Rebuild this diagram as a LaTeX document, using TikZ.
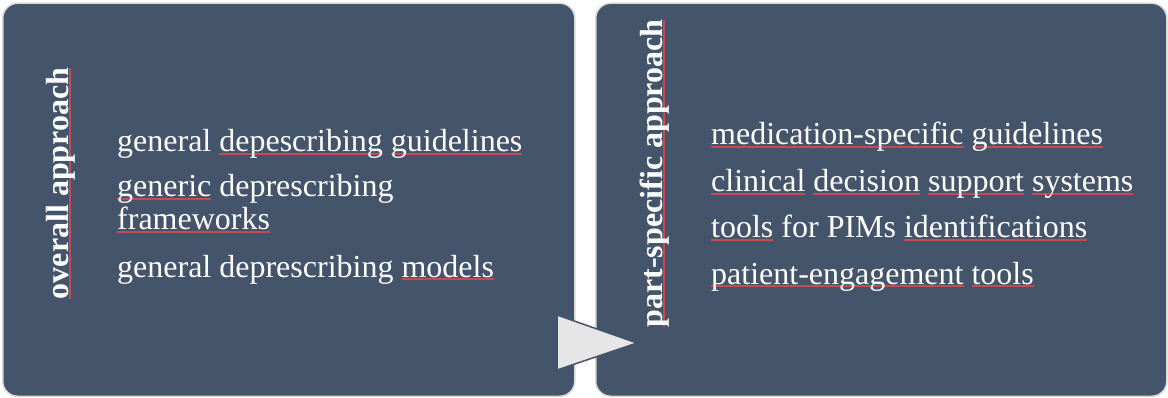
\documentclass[tikz,border=0pt]{standalone}
\usepackage{fontspec}
\setmainfont{Liberation Serif}
\definecolor{mainblue}{HTML}{44546A}
\definecolor{edgegray}{HTML}{D9D9D9}
\definecolor{arrowgray}{HTML}{E7E6E6}
\definecolor{squig}{HTML}{C8494F}
\newlength\sqlen
\newcommand\ul[1]{\settowidth\sqlen{#1}\rule[-2.6pt]{\sqlen}{1.3pt}}
\newcommand\ph[1]{\hphantom{#1}}
\tikzset{
  panel/.style={rectangle, rounded corners=15pt, draw=edgegray, line width=1.5pt, fill=mainblue, minimum width=572pt, minimum height=393pt, anchor=north west, inner sep=0pt},
  item/.style={anchor=base west, inner sep=0pt, text=white, font=\fontsize{32}{38}\selectfont},
  vtitle/.style={anchor=base, rotate=90, inner sep=0pt, text=white, font=\fontsize{32}{38}\selectfont\bfseries},
  squiggle/.style={text=squig},
  tri/.style={fill=arrowgray, draw=mainblue, line width=1.5pt, line join=miter}
}
\begin{document}
\begin{tikzpicture}[x=1pt,y=-1pt]
\useasboundingbox (0,0) rectangle (1168,398);
\node[panel] (L) at (2,2.5) {};
\node[panel, minimum width=571pt] (R) at (595,2.5) {};
\coordinate (t1) at (557,315);
\coordinate (t2) at (637,343);
\coordinate (t3) at (557,370);
\draw[tri] (t1) -- (t2) -- (t3) -- cycle;
% spelling underlines
\node[vtitle, squiggle] (Ltu) at (68,183.5) {\ul{overall approach}};
\node[vtitle, squiggle] (Rtu) at (662,173.5) {\ul{part-specific approach}};
\node[item, squiggle] (l1u) at (117,152) {\ph{general} \ul{depescribing} \ul{guidelines}};
\node[item, squiggle] (l2u) at (117,197) {\ul{generic}};
\node[item, squiggle] (l3u) at (117,230) {\ul{frameworks}};
\node[item, squiggle] (l4u) at (117,277) {\ph{general} \ph{deprescribing} \ul{models}};
\node[item, squiggle] (r1u) at (711,145) {\ul{medication-specific} \ul{guidelines}};
\node[item, squiggle] (r2u) at (711,192) {\ul{clinical} \ul{decision} \ul{support} \ul{systems}};
\node[item, squiggle] (r3u) at (711,238) {\ul{tools} \ph{for} \ph{PIMs} \ul{identifications}};
\node[item, squiggle] (r4u) at (711,284) {\ul{patient-engagement} \ul{tools}};
% texts
\node[vtitle] (Lt) at (68,183.5) {overall approach};
\node[vtitle] (Rt) at (662,173.5) {part-specific approach};
\node[item] (l1) at (117,152) {general depescribing guidelines};
\node[item] (l2) at (117,197) {generic deprescribing};
\node[item] (l3) at (117,230) {frameworks};
\node[item] (l4) at (117,277) {general deprescribing models};
\node[item] (r1) at (711,145) {medication-specific guidelines};
\node[item] (r2) at (711,192) {clinical decision support systems};
\node[item] (r3) at (711,238) {tools for PIMs identifications};
\node[item] (r4) at (711,284) {patient-engagement tools};
\end{tikzpicture}
\end{document}
